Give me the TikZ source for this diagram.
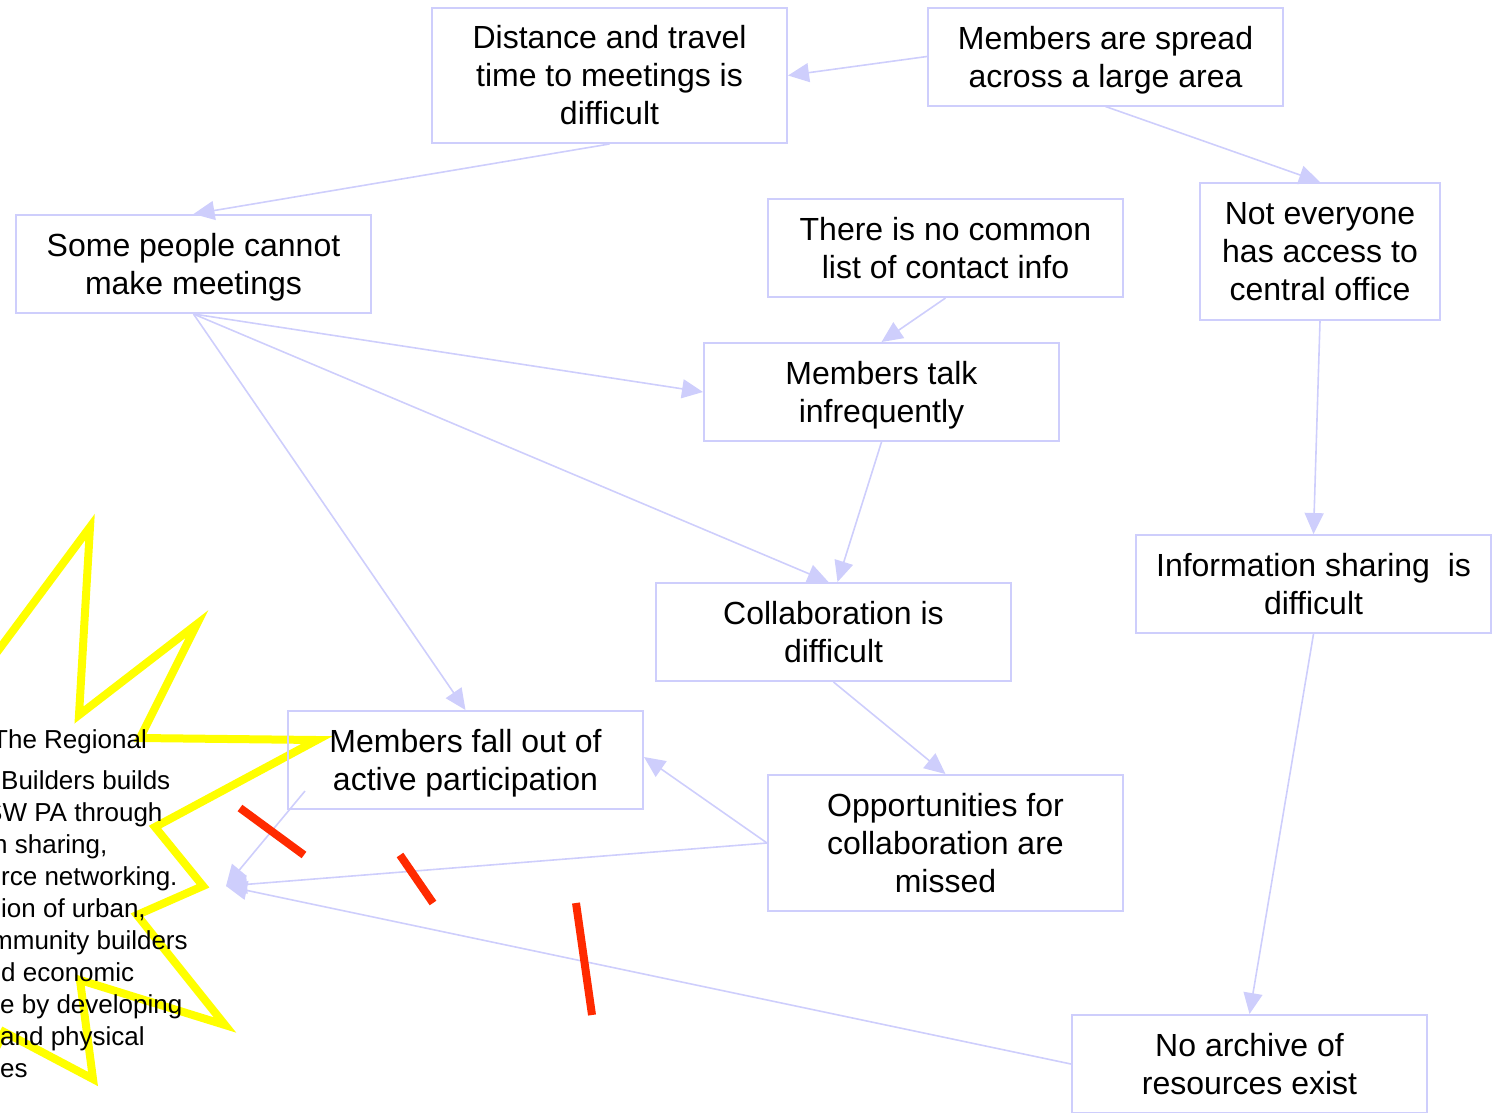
\documentclass[tikz,border=0pt]{standalone}
\usepackage{fontspec}
\setmainfont{Liberation Sans}
\usetikzlibrary{arrows.meta}
\definecolor{lav}{RGB}{206,206,252}
\definecolor{hot}{RGB}{255,42,0}
\definecolor{zap}{RGB}{255,255,0}

\begin{document}
\begin{tikzpicture}[x=1pt,y=-1pt,
  box/.style={draw=lav, line width=2pt, minimum width=355pt, minimum height=98pt,
    inner sep=0pt, align=center, font=\fontsize{32}{38}\selectfont},
  link/.style={draw=lav, line width=1.6pt, -{Triangle[length=21pt,width=19pt]}},
  blurb/.style={anchor=base west, inner sep=0pt, font=\fontsize{26}{32}\selectfont},
  slash/.style={draw=hot, line width=8pt},
  burst/.style={draw=zap, line width=8pt, line join=miter}
]
\useasboundingbox (0,0) rectangle (1499,1112);
\clip (0,0) rectangle (1499,1112);

% explosion outline
\draw[burst] (-20,675) -- (90,527) -- (79,715) -- (197,624) -- (140,738) -- (317,740)
  -- (155,827) -- (203,886) -- (137,915) -- (225,1025) -- (80,980) -- (93,1079)
  -- (4,1032) -- (-20,1080);

% mission text
\node[blurb] at (-8,748) {The Regional};
\node[blurb] at (1,789) {Builders builds};
\node[blurb] at (-15,821) {SW PA through};
\node[blurb] at (-7,853) {n sharing,};
\node[blurb] at (1,885) {rce networking.};
\node[blurb] at (1,917) {ion of urban,};
\node[blurb] at (-9,949) {mmunity builders};
\node[blurb] at (1,981) {d economic};
\node[blurb] at (0,1013) {e by developing};
\node[blurb] at (0,1045) {and physical};
\node[blurb] at (0,1077) {es};

% problem boxes (descenders of a last line are smashed so lines sit evenly)
\node[box, minimum height=135pt] (dist) at (609.5,75.5) {Distance and travel\\time to meetings is\\difficult};
\node[box] (spread) at (1105.5,56.5) {Members are spread\\\smash{across a large area}};
\node[box] (cannot) at (193.5,264) {Some people cannot\\\smash{make meetings}};
\node[box] (list) at (945.5,248) {There is no common\\list of contact info};
\node[box, minimum width=240pt, minimum height=137pt] (office) at (1320,251.5) {Not everyone\\has access to\\central office};
\node[box] (talk) at (881.5,392) {Members talk\\\smash{infrequently}};
\node[box] (collab) at (833.5,632) {Collaboration is\\difficult};
\node[box] (info) at (1313.5,584) {Information sharing\ \ is\\difficult};
\node[box] (fall) at (465.5,760) {Members fall out of\\\smash{active participation}};
\node[box, minimum height=136pt] (missed) at (945.5,843) {Opportunities for\\collaboration are\\missed};
\node[box] (archive) at (1249.5,1064) {No archive of\\resources exist};

\coordinate (goal) at (226,886);
\coordinate (fallfoot) at (305,791);

% cause and effect links
\draw[link] (spread.west) -- (dist.east);
\draw[link] (dist.south) -- (cannot.north);
\draw[link] (spread.south) -- (office.north);
\draw[link] (list.south) -- (talk.north);
\draw[link] (cannot.south) -- (talk.west);
\draw[link] (cannot.south) -- ([xshift=-5pt]collab.north);
\draw[link] (cannot.south) -- (fall.north);
\draw[link] (talk.south) -- ([xshift=4pt]collab.north);
\draw[link] (office.south) -- (info.north);
\draw[link] (collab.south) -- (missed.north);
\draw[link] (missed.west) -- ([yshift=3pt]fall.east);
\draw[link] (missed.west) -- (goal);
\draw[link] (fallfoot) -- (goal);
\draw[link] (archive.west) -- (goal);
\draw[link] (info.south) -- (archive.north);

% strike marks
\draw[slash] (240,808) -- (304,855);
\draw[slash] (400,855) -- (433,903);
\draw[slash] (576,903) -- (592,1015);
\end{tikzpicture}
\end{document}
